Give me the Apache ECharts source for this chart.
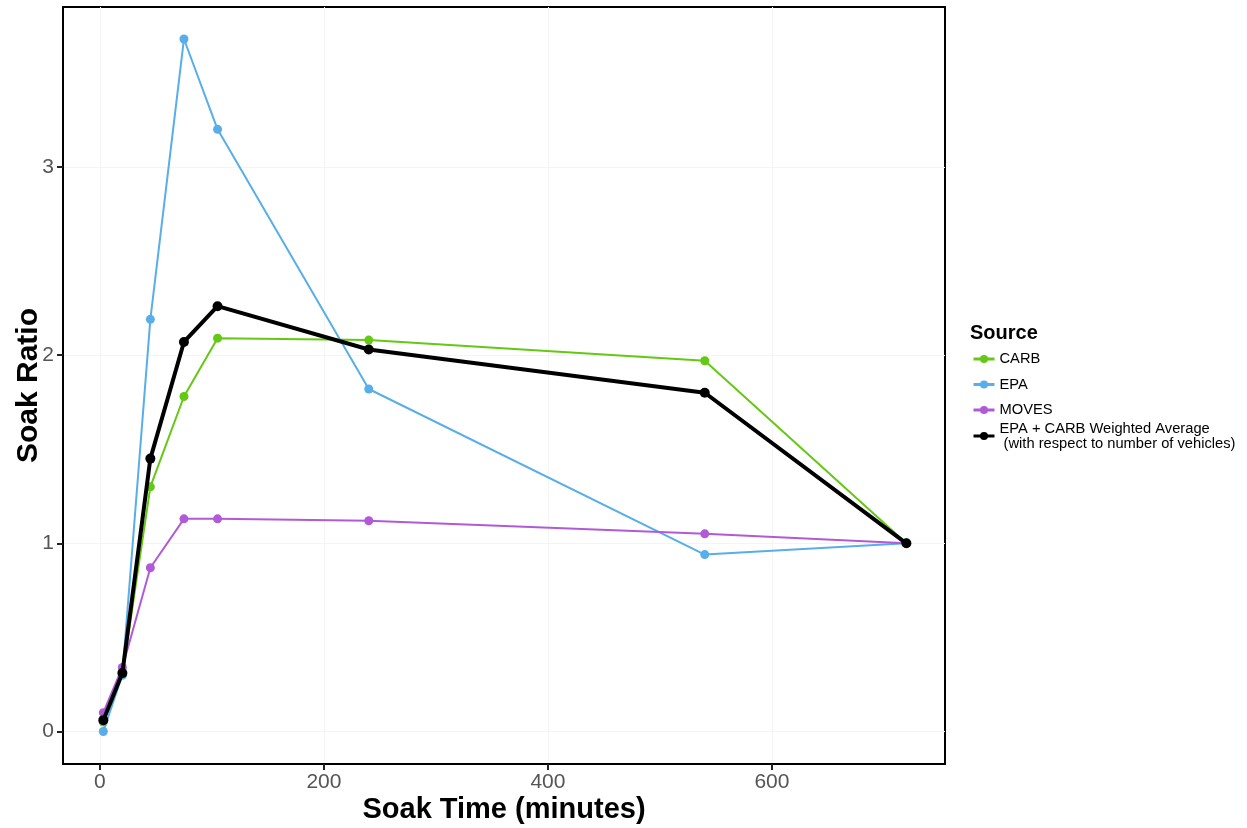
<!DOCTYPE html>
<html>
<head>
<meta charset="utf-8">
<script src="https://cdn.jsdelivr.net/npm/echarts@6/dist/echarts.min.js"></script>
<style>
html,body{margin:0;padding:0;background:#fff;}
#chart{width:1247px;height:828px;}
</style>
</head>
<body>
<div id="chart"></div>
<script>
const soakTimes = [3, 20, 45, 75, 105, 240, 540, 720];
const carb  = [0.05, 0.30, 1.30, 1.78, 2.09, 2.08, 1.97, 1.00];
const epa   = [0.00, 0.30, 2.19, 3.68, 3.20, 1.82, 0.94, 1.00];
const moves = [0.10, 0.34, 0.87, 1.13, 1.13, 1.12, 1.05, 1.00];
const avg   = [0.06, 0.31, 1.45, 2.07, 2.26, 2.03, 1.80, 1.00];
const xTicks = [0, 200, 400, 600];
const yTicks = [0, 1, 2, 3];
const seriesNames = ['CARB', 'EPA', 'MOVES', 'EPA + CARB Weighted Average'];
const avgNote = ' (with respect to number of vehicles)';
const colors = ['#64c814', '#58aee8', '#b15ad8', '#000000'];

const FONT = "'Liberation Sans', Arial, sans-serif";
const pair = v => soakTimes.map((t, i) => [t, v[i]]);
const dataSets = [carb, epa, moves, avg];

const legendText = {fontFamily: FONT, fontSize: 14.7, color: '#000', lineHeight: 15};

const chart = echarts.init(document.getElementById('chart'));
chart.setOption({
  backgroundColor: '#fff',
  animation: false,
  textStyle: {fontFamily: FONT},
  title: {
    text: 'Source', left: 965, top: 318,
    textStyle: {fontFamily: FONT, fontSize: 20, fontWeight: 'bold', color: '#000'}
  },
  legend: [
    {
      orient: 'vertical', left: 967, top: 346.5,
      data: seriesNames.slice(0, 3),
      itemWidth: 21, itemHeight: 10, itemGap: 10.5,
      lineStyle: {width: 3},
      textStyle: legendText
    },
    {
      orient: 'vertical', left: 967, top: 416,
      data: [seriesNames[3]],
      itemWidth: 21, itemHeight: 10,
      lineStyle: {width: 3},
      formatter: n => n + '\n' + avgNote,
      textStyle: legendText
    }
  ],
  grid: {
    left: 63, right: 302, top: 7, bottom: 64,
    outerBoundsMode: 'none',
    show: true, borderColor: '#000', borderWidth: 2, backgroundColor: '#fff'
  },
  xAxis: {
    type: 'value', min: -33, max: 754.5, splitNumber: 4,
    name: 'Soak Time (minutes)', nameLocation: 'middle', nameGap: 31,
    nameMoveOverlap: false,
    nameTextStyle: {fontFamily: FONT, fontSize: 29, fontWeight: 'bold', color: '#000'},
    axisLine: {show: true, onZero: false, lineStyle: {color: '#000', width: 2}},
    axisTick: {show: true, inside: false, length: 6, customValues: xTicks, lineStyle: {color: '#222', width: 2}},
    axisLabel: {customValues: xTicks, fontFamily: FONT, fontSize: 21, color: '#555', margin: 8},
    splitLine: {show: true, lineStyle: {color: '#f4f4f4', width: 1}}
  },
  yAxis: {
    type: 'value', min: -0.173, max: 3.85, splitNumber: 4,
    name: 'Soak Ratio', nameLocation: 'middle', nameGap: 19,
    nameMoveOverlap: false,
    nameTextStyle: {fontFamily: FONT, fontSize: 30, fontWeight: 'bold', color: '#000'},
    axisLine: {show: true, onZero: false, lineStyle: {color: '#000', width: 2}},
    axisTick: {show: true, inside: false, length: 6, customValues: yTicks, lineStyle: {color: '#222', width: 2}},
    axisLabel: {customValues: yTicks, fontFamily: FONT, fontSize: 21, color: '#555', margin: 9},
    splitLine: {show: true, lineStyle: {color: '#f4f4f4', width: 1}}
  },
  series: seriesNames.map((name, i) => ({
    name, type: 'line',
    data: pair(dataSets[i]),
    color: colors[i],
    symbol: 'circle',
    symbolSize: i === 3 ? 10 : 9,
    lineStyle: {width: i === 3 ? 4 : 2, color: colors[i]},
    itemStyle: {color: colors[i]},
    z: 2 + i
  }))
});
</script>
</body>
</html>
